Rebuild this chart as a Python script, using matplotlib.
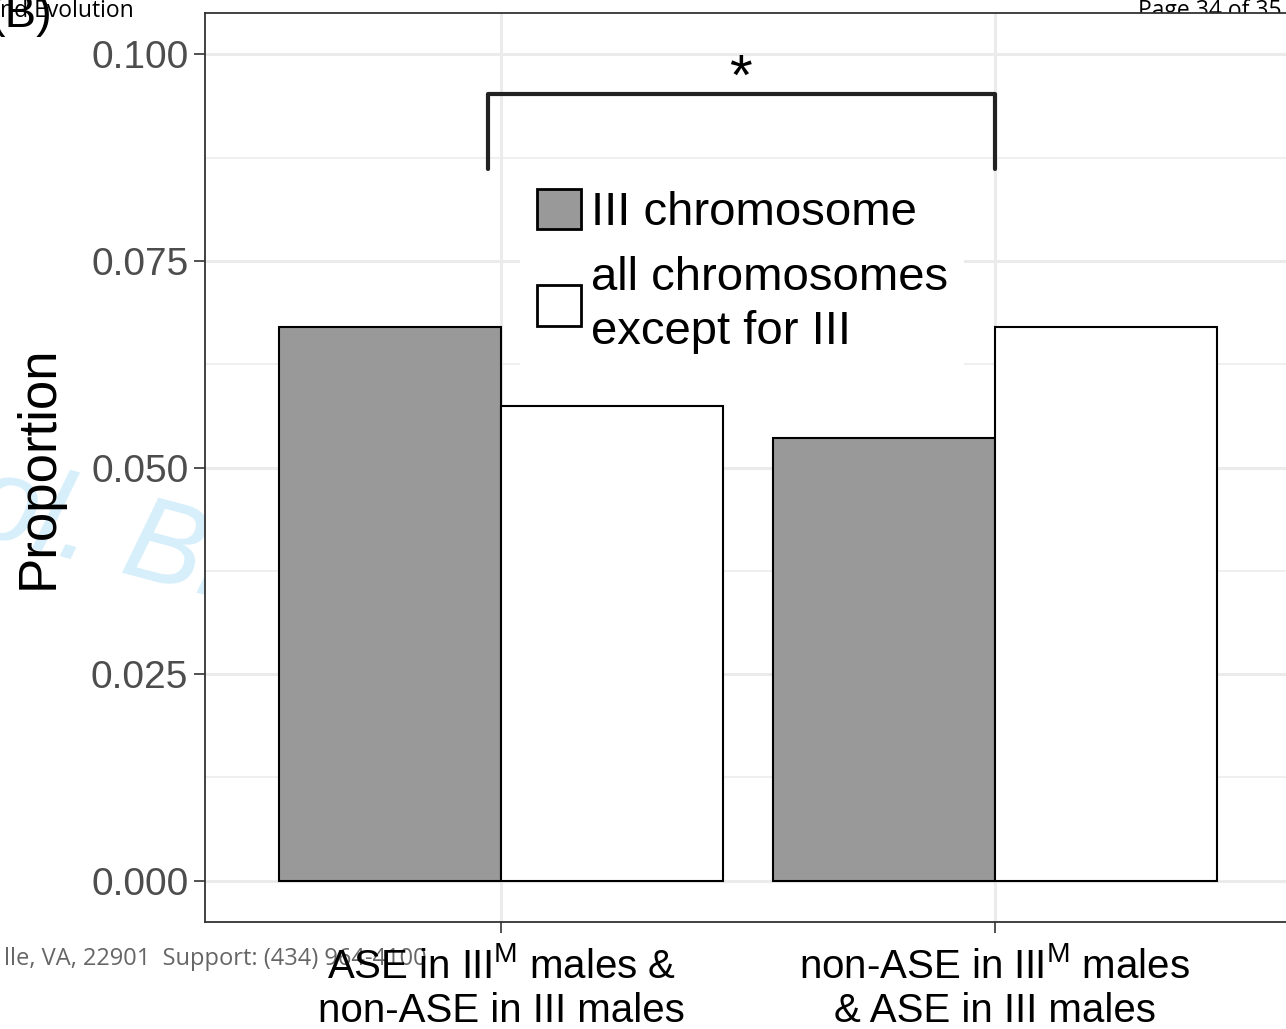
import numpy as np
import matplotlib
matplotlib.use('Agg')
import matplotlib.pyplot as plt
from matplotlib.patches import Patch
from matplotlib.ticker import MultipleLocator

plt.rcParams['font.family'] = ['Liberation Sans', 'DejaVu Sans']
plt.rcParams['mathtext.fontset'] = 'custom'
plt.rcParams['mathtext.rm'] = 'Liberation Sans'

# data
groups = [r'ASE in III$^{\mathrm{M}}$ males &' + '\nnon-ASE in III males',
          r'non-ASE in III$^{\mathrm{M}}$ males' + '\n& ASE in III males']
series_labels = ['III chromosome', 'all chromosomes\nexcept for III']
iii_chrom = [0.0670, 0.0536]
other_chrom = [0.0574, 0.0670]
yticks = [0.000, 0.025, 0.050, 0.075, 0.100]

fill_gray = '#999999'
grid_col = '#EBEBEB'
dark = '#333333'

fig = plt.figure(figsize=(12.86, 10.29), dpi=100)
W, H = 1286, 1029
# axes spans beyond the right edge of the page (cropped figure)
ax = fig.add_axes([205 / W, (H - 922) / H, (1291 - 205) / W, (922 - 13) / H])

x = np.arange(1, len(groups) + 1)
bw = 0.45
ax.bar(x - bw / 2, iii_chrom, width=bw, color=fill_gray, edgecolor='black',
       linewidth=1.5, zorder=3)
ax.bar(x + bw / 2, other_chrom, width=bw, color='white', edgecolor='black',
       linewidth=1.5, zorder=3)

ax.set_xlim(0.4, 2.6)
ax.set_ylim(-0.005, 0.105)
ax.set_xticks(x)
ax.set_xticklabels(groups, fontsize=29, color='black', linespacing=1.2)
ax.set_yticks(yticks)
ax.set_yticklabels(['%.3f' % v for v in yticks], fontsize=28, color='#4D4D4D')
ax.yaxis.set_minor_locator(MultipleLocator(0.0125))
ax.tick_params(axis='both', which='major', length=8, width=1.2, color=dark)
ax.tick_params(axis='x', pad=10)
ax.tick_params(axis='y', pad=4)
ax.tick_params(axis='y', which='minor', length=0)

ax.grid(True, which='major', color=grid_col, linewidth=2.2, zorder=0)
ax.grid(True, which='minor', axis='y', color=grid_col, linewidth=1.1, zorder=0)
ax.set_axisbelow(True)
for s in ax.spines.values():
    s.set_color(dark)
    s.set_linewidth(1.3)

ax.set_ylabel('Proportion', fontsize=38, labelpad=20)

# significance bracket
br_x0, br_x1 = 0.974, 2.0
br_top, br_low = 0.0952, 0.0861
ax.plot([br_x0, br_x0, br_x1, br_x1], [br_low, br_top, br_top, br_low],
        color='#222222', linewidth=3, solid_capstyle='round', zorder=6)
ax.text(1.484, 0.0937, '*', fontsize=42, ha='center', va='bottom', zorder=6)

# legend
handles = [Patch(facecolor=fill_gray, edgecolor='black', linewidth=2),
           Patch(facecolor='white', edgecolor='black', linewidth=2)]
leg = ax.legend(handles, series_labels, loc='upper left',
                bbox_to_anchor=(520 / W, 1 - 172 / H), bbox_transform=fig.transFigure,
                fontsize=34, frameon=True, fancybox=False, framealpha=1,
                edgecolor='none', facecolor='white', handlelength=0.95,
                handleheight=0.95, handletextpad=0.2, borderpad=0.35,
                labelspacing=0.45, borderaxespad=0)
for t in leg.get_texts():
    t.set_linespacing(1.27)
leg.set_zorder(5)

# page furniture around the cropped figure
fig.text(-34 / W, 1 - 531 / H, 'ol. Bi', fontsize=85, color='#D6EFFA',
         style='italic', rotation=-15, rotation_mode='anchor',
         ha='left', va='baseline', zorder=-1)
fig.text(0, 1 - 17 / H, 'nd Evolution', fontsize=16.5, family='Open Sans',
         ha='left', va='baseline')
fig.text(52 / W, 1 - 27 / H, '(B)', fontsize=34, ha='right', va='baseline')
fig.text(1282 / W, 1 - 17 / H, 'Page 34 of 35', fontsize=16.5, family='Open Sans',
         ha='right', va='baseline', zorder=-1)
fig.text(427 / W, 1 - 965 / H, 'lle, VA, 22901  Support: (434) 964-4100',
         fontsize=17, family='Open Sans', color='#666666', ha='right',
         va='baseline', zorder=-1)

fig.savefig('out.png', dpi=100)
